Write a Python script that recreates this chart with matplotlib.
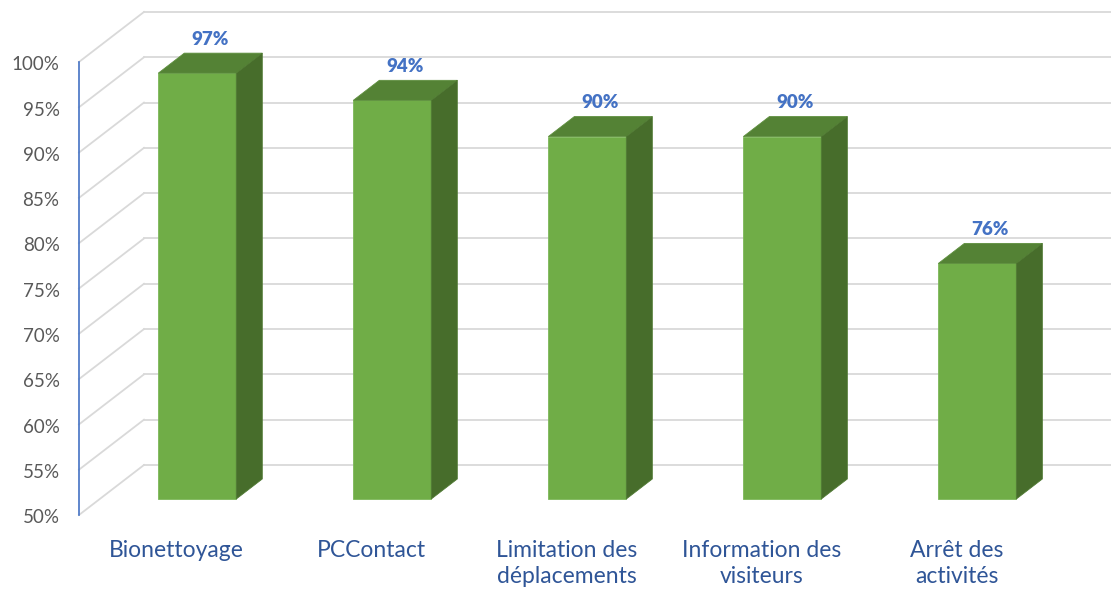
import matplotlib.pyplot as plt
from matplotlib.patches import Polygon

plt.rcParams['font.family'] = ['Lato', 'DejaVu Sans']

# données
categories = ["Bionettoyage", "PCContact", "Limitation des\ndéplacements",
              "Information des\nvisiteurs", "Arrêt des\nactivités"]
values = [97, 94, 90, 90, 76]
ticks = [50, 55, 60, 65, 70, 75, 80, 85, 90, 95, 100]

# projection oblique (profondeur complète du mur du fond)
DX = 0.3333   # en unités de catégorie
DY = 5.52     # en %
d0, d1 = 0.32, 0.72   # profondeur avant / arrière des barres
half_w = 0.2

front_c = "#70AD47"
top_c = "#548235"
side_c = "#476D2B"
grid_c = "#D9D9D9"

fig = plt.figure(figsize=(11.11, 5.92), dpi=100)
ax = fig.add_axes([0, 0, 1, 1])
ax.set_xlim(-0.405, 5.292)
ax.set_ylim(41.5, 106.84)
ax.axis("off")

n = len(categories)

# quadrillage : diagonales + lignes du mur du fond
for t in ticks:
    ax.plot([0, DX], [t, t + DY], color=grid_c, lw=1.3, zorder=1)
    ax.plot([DX, n + DX + 1], [t + DY, t + DY], color=grid_c, lw=1.3, zorder=1)
    ax.annotate("{}%".format(t), (0, t), xytext=(-14, -2), textcoords="offset points",
                ha="right", va="center", fontsize=13.5, color="#595959")

# axe vertical
ax.plot([0, 0], [ticks[0], ticks[-1]], color="#4472C4", lw=1.2, zorder=2)

# barres 3D
for i, (cat, v) in enumerate(zip(categories, values)):
    xc = i + 0.5 + d0 * DX
    xl, xr = xc - half_w, xc + half_w
    yb = ticks[0] + d0 * DY
    yt = v + d0 * DY
    ddx = (d1 - d0) * DX
    ddy = (d1 - d0) * DY
    ax.add_patch(Polygon([(xl, yb), (xr, yb), (xr, yt), (xl, yt)],
                         closed=True, fc=front_c, ec="#7DB85A", lw=0.6, zorder=3))
    ax.add_patch(Polygon([(xl, yt), (xr, yt), (xr + ddx, yt + ddy), (xl + ddx, yt + ddy)],
                         closed=True, fc=top_c, ec="#5E8F3E", lw=0.6, zorder=3))
    ax.add_patch(Polygon([(xr, yb), (xr + ddx, yb + ddy), (xr + ddx, yt + ddy), (xr, yt)],
                         closed=True, fc=side_c, ec="#507A33", lw=0.6, zorder=3))
    ax.annotate("{}%".format(v), (xc + ddx / 2, yt + ddy), xytext=(0, 4),
                textcoords="offset points", ha="center", va="bottom",
                fontsize=13.5, fontweight="heavy", color="#4472C4", zorder=4)
    ax.annotate(cat, (i + 0.5, ticks[0]), xytext=(0, -18), textcoords="offset points",
                ha="center", va="top", fontsize=16.5, color="#2F5597",
                linespacing=1.3)

fig.savefig("out.png", dpi=100)
